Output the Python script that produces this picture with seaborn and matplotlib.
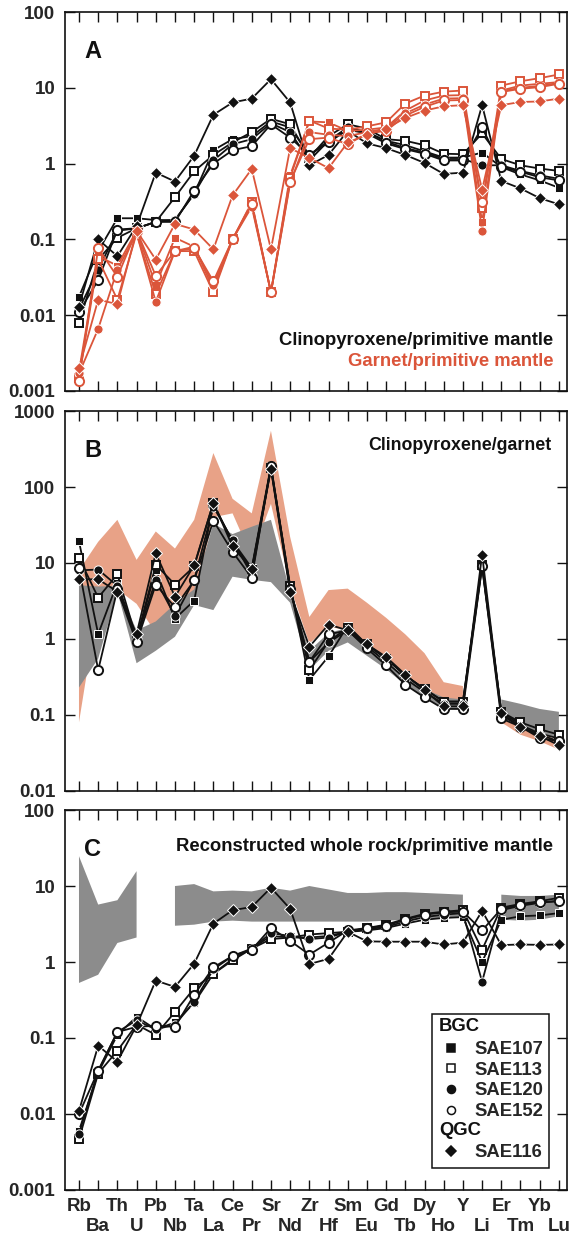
import numpy as np
import matplotlib
matplotlib.use("Agg")
import matplotlib.pyplot as plt
import matplotlib.text as mtext
from matplotlib.legend_handler import HandlerBase
from matplotlib.lines import Line2D
from matplotlib.ticker import FixedLocator, FixedFormatter, NullLocator
import seaborn as sns

# ---------------------------------------------------------------- data
elements = ["Rb", "Ba", "Th", "U", "Pb", "Nb", "Ta", "La", "Ce", "Pr", "Sr", "Nd", "Zr",
            "Hf", "Sm", "Eu", "Gd", "Tb", "Dy", "Ho", "Y", "Li", "Er", "Tm", "Yb", "Lu"]

samples = ["SAE107", "SAE113", "SAE120", "SAE152", "SAE116"]

# A: clinopyroxene / primitive mantle
cpx_sae107 = [0.0175, 0.07, 0.19, 0.19, 0.18, 0.18, 0.40, 1.5, 2.1, 2.3, 3.6, 3.0, 1.3,
              2.0, 2.9, 2.6, 2.0, 1.75, 1.45, 1.2, 1.2, 1.4, 0.9, 0.72, 0.6, 0.48]
cpx_sae113 = [0.0078, 0.054, 0.105, 0.14, 0.17, 0.36, 0.79, 1.3, 1.9, 2.6, 3.9, 3.3, 1.2,
              2.3, 3.3, 2.9, 2.1, 2.0, 1.75, 1.35, 1.33, 2.5, 1.15, 0.95, 0.86, 0.8]
cpx_sae120 = [0.012, 0.04, 0.13, 0.14, 0.17, 0.18, 0.40, 1.1, 1.8, 2.1, 3.4, 2.6, 1.1,
              2.0, 3.0, 2.6, 1.95, 1.6, 1.4, 1.15, 1.15, 0.95, 0.95, 0.8, 0.7, 0.63]
cpx_sae152 = [0.011, 0.029, 0.135, 0.14, 0.17, 0.17, 0.44, 1.0, 1.5, 1.7, 3.3, 2.2, 1.3,
              1.9, 2.8, 2.5, 1.85, 1.55, 1.35, 1.1, 1.1, 3.0, 0.9, 0.78, 0.66, 0.6]
cpx_sae116 = [0.013, 0.10, 0.06, 0.15, 0.76, 0.58, 1.27, 4.4, 6.4, 7.2, 13.0, 6.4, 0.95,
              1.3, 2.7, 1.85, 1.6, 1.3, 1.02, 0.73, 0.76, 5.9, 0.59, 0.47, 0.35, 0.29]

# A: garnet / primitive mantle
grt_sae107 = [0.0018, 0.06, 0.045, 0.13, 0.025, 0.105, 0.08, 0.022, 0.10, 0.30, 0.02, 0.70, 3.6,
              3.5, 2.7, 2.8, 3.0, 5.0, 6.8, 7.9, 8.0, 0.17, 9.2, 10.7, 11.3, 11.9]
grt_sae113 = [0.0015, 0.055, 0.016, 0.12, 0.019, 0.07, 0.07, 0.02, 0.10, 0.31, 0.02, 0.65, 3.7,
              2.9, 2.8, 3.1, 3.5, 6.2, 7.9, 8.9, 9.2, 0.26, 10.7, 12.2, 13.4, 15.0]
grt_sae120 = [0.0017, 0.0066, 0.04, 0.12, 0.015, 0.07, 0.08, 0.025, 0.10, 0.27, 0.02, 0.55, 2.6,
              2.4, 2.3, 2.6, 2.9, 4.6, 6.0, 7.2, 7.3, 0.13, 9.0, 10.0, 10.6, 11.6]
grt_sae152 = [0.00135, 0.077, 0.032, 0.13, 0.033, 0.07, 0.076, 0.028, 0.10, 0.29, 0.02, 0.58, 2.1,
              2.2, 1.8, 2.5, 2.7, 4.3, 5.6, 6.8, 6.9, 0.31, 8.8, 9.7, 10.2, 11.3]
grt_sae116 = [0.002, 0.016, 0.014, 0.13, 0.054, 0.16, 0.135, 0.074, 0.38, 0.85, 0.074, 1.6, 1.19,
              0.87, 1.9, 2.4, 2.9, 4.0, 5.0, 5.7, 5.9, 0.45, 5.9, 6.5, 6.6, 7.2]

# B: clinopyroxene / garnet
cg_sae107 = [19.3, 1.16, 5.5, 1.0, 8.0, 1.85, 3.2, 59, 19.3, 8.6, 188, 4.9, 0.29,
             0.59, 1.5, 0.84, 0.55, 0.33, 0.22, 0.15, 0.15, 10.0, 0.11, 0.074, 0.057, 0.049]
cg_sae113 = [11.7, 3.5, 7.1, 1.0, 9.5, 5.2, 9.0, 62, 18, 8.0, 180, 5.0, 0.39,
             0.93, 1.4, 0.85, 0.55, 0.33, 0.22, 0.15, 0.15, 9.5, 0.11, 0.08, 0.065, 0.055]
cg_sae120 = [8.0, 8.2, 5.0, 1.0, 6.0, 2.0, 6.0, 55, 20, 7.0, 175, 4.5, 0.5,
             0.9, 1.3, 0.8, 0.5, 0.3, 0.2, 0.14, 0.14, 9.0, 0.1, 0.07, 0.055, 0.045]
cg_sae152 = [8.6, 0.39, 4.5, 0.9, 5.2, 2.6, 5.9, 36, 14, 6.4, 190, 4.5, 0.5,
             1.15, 1.3, 0.75, 0.45, 0.25, 0.17, 0.12, 0.12, 9.0, 0.09, 0.07, 0.05, 0.045]
cg_sae116 = [6.1, 6.1, 4.2, 1.16, 13.5, 3.6, 9.3, 62, 16.5, 8.3, 173, 4.1, 0.79,
             1.55, 1.3, 0.85, 0.58, 0.34, 0.21, 0.13, 0.13, 12.9, 0.105, 0.07, 0.053, 0.04]

nan = np.nan
# B: literature ranges of cpx/garnet partitioning
range_salmon_hi = [8.0, 19, 37, 11, 26, 15.5, 37, 280, 70, 45, 550, 22, 1.95,
                   4.4, 4.6, 3.0, 1.9, 1.15, 0.65, 0.27, 0.24, nan, 0.13, 0.08, 0.06, 0.045]
range_salmon_lo = [0.08, 3.0, 4.5, 2.9, 1.2, 1.5, 3.0, 40, 45, 12, 60, 4.9, 0.87,
                   1.45, 1.3, 0.85, 0.55, 0.33, 0.22, 0.15, 0.15, nan, 0.08, 0.055, 0.045, 0.035]
range_gray_hi = [5.1, 4.9, 5.0, 1.3, 1.7, 2.9, 4.5, 33, 24, 30, 37, 4.2, 0.7,
                 1.2, 1.4, 0.85, 0.5, 0.32, 0.22, 0.17, 0.16, nan, 0.16, 0.14, 0.12, 0.11]
range_gray_lo = [0.23, 0.55, 4.2, 0.48, 0.7, 1.07, 2.8, 2.4, 6.6, 6.0, 5.6, 3.0, 0.39,
                 0.7, 0.9, 0.6, 0.4, 0.25, 0.17, 0.12, 0.12, nan, 0.09, 0.07, 0.055, 0.05]

# C: reconstructed whole rock / primitive mantle
wr_sae107 = [0.006, 0.035, 0.11, 0.19, 0.13, 0.16, 0.29, 0.7, 1.1, 1.5, 2.2, 2.1, 2.1,
             2.2, 2.5, 2.6, 2.8, 3.2, 3.6, 3.8, 3.9, 1.0, 3.6, 4.0, 4.1, 4.4]
wr_sae113 = [0.0047, 0.034, 0.068, 0.15, 0.11, 0.22, 0.45, 0.7, 1.05, 1.5, 2.0, 2.1, 2.3,
             2.4, 2.5, 2.8, 3.1, 3.7, 4.3, 4.6, 4.8, 1.45, 5.2, 5.8, 6.3, 7.0]
wr_sae120 = [0.0055, 0.037, 0.12, 0.17, 0.13, 0.15, 0.30, 0.8, 1.2, 1.5, 2.4, 2.2, 2.0,
             2.1, 2.5, 2.7, 2.9, 3.4, 3.9, 4.2, 4.4, 0.55, 4.8, 5.5, 6.0, 6.4]
wr_sae152 = [0.010, 0.037, 0.12, 0.14, 0.145, 0.14, 0.37, 0.85, 1.2, 1.45, 2.8, 1.9, 1.25,
             1.8, 2.6, 2.8, 3.0, 3.6, 4.2, 4.5, 4.6, 2.6, 5.0, 5.7, 6.1, 6.3]
wr_sae116 = [0.011, 0.079, 0.049, 0.146, 0.57, 0.47, 0.95, 3.2, 4.8, 5.3, 9.5, 5.0, 0.94,
             1.1, 2.5, 1.87, 1.85, 1.85, 1.85, 1.7, 1.8, 4.7, 1.67, 1.7, 1.68, 1.7]

# C: range of whole-rock compositions
wr_range_hi = [24.7, 5.7, 6.5, 15.7, nan, 10, 10.6, 8.5, 8.7, 8.5, 9.5, 8.7, 10,
               9.0, 8.1, 8.1, 8.3, 8.3, 8.1, 7.9, 7.7, nan, 7.7, 7.4, 7.4, 7.7]
wr_range_lo = [0.53, 0.68, 1.78, 2.1, nan, 3.0, 3.1, 3.4, 3.5, 3.4, 3.4, 3.4, 3.4,
               3.4, 3.4, 3.4, 3.5, 3.6, 3.7, 3.8, 3.9, nan, 3.6, 3.5, 3.6, 4.0]

# ---------------------------------------------------------------- style
BLACK = "#111111"
RED = "#DB553A"
SALMON = "#E8A287"
GRAY = "#8C8C8C"

marker_of = {"SAE107": "s", "SAE113": "s", "SAE120": "o", "SAE152": "o", "SAE116": "D"}
open_marker = {"SAE107": False, "SAE113": True, "SAE120": False, "SAE152": True, "SAE116": False}
msize = {"s": 6.2, "o": 6.6, "D": 6.0}

sns.set_theme(style="ticks")
plt.rcParams["font.family"] = ["Liberation Sans", "DejaVu Sans"]
plt.rcParams["font.weight"] = "bold"

x = np.arange(len(elements))


def draw_series(ax, values, sample, color, z):
    m = marker_of[sample]
    if open_marker[sample]:
        fc, ec, mew = "white", color, 1.4
    else:
        fc, ec, mew = color, "white", 0.7
    sns.lineplot(x=x, y=values, ax=ax, color=color, linewidth=1.3, marker=m,
                 markersize=msize[m], markerfacecolor=fc, markeredgecolor=ec,
                 markeredgewidth=mew, sort=False, legend=False, errorbar=None, zorder=z)


def style_axis(ax, ymin, ymax, show_xlabels):
    ax.set_yscale("log")
    ax.set_ylim(ymin, ymax)
    ax.set_xlim(-0.73, 25.42)
    decades = [10.0 ** k for k in range(int(np.log10(ymin)), int(np.log10(ymax)) + 1)]
    ax.yaxis.set_major_locator(FixedLocator(decades))
    ax.yaxis.set_major_formatter(FixedFormatter([f"{d:g}" for d in decades]))
    ax.yaxis.set_minor_locator(NullLocator())
    # element names alternate between two rows: even positions on top, odd below
    ax.set_xticks(x[::2])
    ax.set_xticks(x[1::2], minor=True)
    if show_xlabels:
        ax.set_xticklabels(elements[::2])
        ax.set_xticklabels(elements[1::2], minor=True)
    else:
        ax.set_xticklabels([])
        ax.set_xticklabels([], minor=True)
    ax.tick_params(axis="both", which="both", direction="in", length=7.5, width=1.0,
                   color=BLACK, top=True, right=True, labelsize=13.5)
    ax.tick_params(axis="y", pad=7)
    ax.tick_params(axis="x", which="major", pad=6)
    ax.tick_params(axis="x", which="minor", pad=20)
    for t in ax.get_yticklabels() + ax.get_xticklabels() + ax.get_xticklabels(minor=True):
        t.set_fontweight("bold")
    for s in ax.spines.values():
        s.set_linewidth(1.2)
        s.set_color(BLACK)
    ax.set_xlabel("")
    ax.set_ylabel("")


fig = plt.figure(figsize=(5.75, 12.38), dpi=100)
left, width = 0.1130, 0.8730
axA = fig.add_axes([left, 0.6842, width, 0.3061])
axB = fig.add_axes([left, 0.3611, width, 0.3069])
axC = fig.add_axes([left, 0.0388, width, 0.3069])

# ---- A
cpx = {"SAE107": cpx_sae107, "SAE113": cpx_sae113, "SAE120": cpx_sae120,
       "SAE152": cpx_sae152, "SAE116": cpx_sae116}
grt = {"SAE107": grt_sae107, "SAE113": grt_sae113, "SAE120": grt_sae120,
       "SAE152": grt_sae152, "SAE116": grt_sae116}
for s in samples:
    draw_series(axA, cpx[s], s, BLACK, 3)
for s in samples:
    draw_series(axA, grt[s], s, RED, 4)
style_axis(axA, 1e-3, 1e2, False)
axA.text(0.038, 0.895, "A", transform=axA.transAxes, fontsize=17, fontweight="bold",
         va="center", ha="left", color=BLACK)
axA.text(0.973, 0.132, "Clinopyroxene/primitive mantle", transform=axA.transAxes,
         fontsize=13.3, fontweight="bold", ha="right", va="center", color=BLACK)
axA.text(0.973, 0.077, "Garnet/primitive mantle", transform=axA.transAxes,
         fontsize=13.3, fontweight="bold", ha="right", va="center", color=RED)

# ---- B
axB.fill_between(x, range_salmon_lo, range_salmon_hi, color=SALMON, linewidth=0, zorder=1)
axB.fill_between(x, range_gray_lo, range_gray_hi, color=GRAY, linewidth=0, zorder=2)
cg = {"SAE107": cg_sae107, "SAE113": cg_sae113, "SAE120": cg_sae120,
      "SAE152": cg_sae152, "SAE116": cg_sae116}
for s in samples:
    draw_series(axB, cg[s], s, BLACK, 3)
style_axis(axB, 1e-2, 1e3, False)
axB.text(0.038, 0.897, "B", transform=axB.transAxes, fontsize=17, fontweight="bold",
         va="center", ha="left", color=BLACK)
axB.text(0.970, 0.91, "Clinopyroxene/garnet", transform=axB.transAxes,
         fontsize=12.8, fontweight="bold", ha="right", va="center", color=BLACK)

# ---- C
axC.fill_between(x, wr_range_lo, wr_range_hi, color=GRAY, linewidth=0, zorder=1)
wr = {"SAE107": wr_sae107, "SAE113": wr_sae113, "SAE120": wr_sae120,
      "SAE152": wr_sae152, "SAE116": wr_sae116}
for s in samples:
    draw_series(axC, wr[s], s, BLACK, 3)
style_axis(axC, 1e-3, 1e2, True)
axC.text(0.038, 0.895, "C", transform=axC.transAxes, fontsize=17, fontweight="bold",
         va="center", ha="left", color=BLACK)
axC.text(0.973, 0.903, "Reconstructed whole rock/primitive mantle", transform=axC.transAxes,
         fontsize=13.3, fontweight="bold", ha="right", va="center", color=BLACK)


# legend with group headings written in the handle column
class GroupHeading:
    def __init__(self, text):
        self.text = text


class GroupHeadingHandler(HandlerBase):
    def create_artists(self, legend, orig_handle, xdescent, ydescent, width, height,
                       fontsize, trans):
        t = mtext.Text(-xdescent, -ydescent + height / 2.0, orig_handle.text,
                       fontsize=fontsize, fontweight="bold", ha="left", va="center",
                       color=BLACK, transform=trans)
        return [t]


def legend_marker(sample):
    m = marker_of[sample]
    fc = "white" if open_marker[sample] else BLACK
    return Line2D([], [], linestyle="none", marker=m, markersize=msize[m] - 0.8,
                  markerfacecolor=fc, markeredgecolor=BLACK, markeredgewidth=1.1)


handles = [GroupHeading("BGC")] + [legend_marker(s) for s in samples[:4]] + \
          [GroupHeading("QGC"), legend_marker("SAE116")]
labels = [""] + samples[:4] + ["", "SAE116"]
leg = axC.legend(handles, labels, loc="lower right", bbox_to_anchor=(0.965, 0.058),
                 handler_map={GroupHeading: GroupHeadingHandler()},
                 prop={"weight": "bold", "size": 13.3}, frameon=True, fancybox=False,
                 edgecolor=BLACK, framealpha=1, borderpad=0.35, labelspacing=0.2,
                 handlelength=1.3, handletextpad=0.6, borderaxespad=0)
leg.get_frame().set_linewidth(1.1)

fig.savefig("out.png", dpi=100)
